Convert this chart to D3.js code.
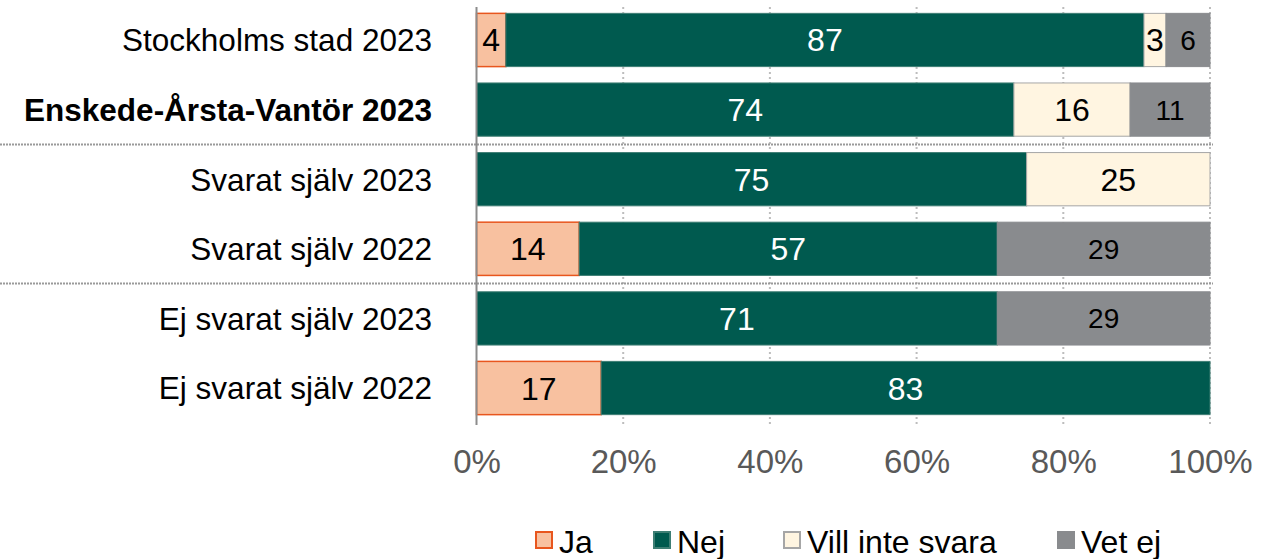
<!DOCTYPE html>
<html>
<head>
<meta charset="utf-8">
<script src="https://cdn.jsdelivr.net/npm/d3@7"></script>
<style>
  html, body { margin: 0; padding: 0; background: #fff; }
  svg { display: block; font-family: "Liberation Sans", Arial, sans-serif; }
</style>
</head>
<body>
<svg id="chart" width="1265" height="559"></svg>
<script>
// Row labels, top to bottom
const categories = [
  "Stockholms stad 2023",
  "Enskede-Årsta-Vantör 2023",
  "Svarat själv 2023",
  "Svarat själv 2022",
  "Ej svarat själv 2023",
  "Ej svarat själv 2022"
];
const boldCategory = "Enskede-Årsta-Vantör 2023";

// Answer shares (%) per row
const seriesNames = ["Ja", "Nej", "Vill inte svara", "Vet ej"];
const ja         = [4, 0, 0, 14, 0, 17];
const nej        = [87, 74, 75, 57, 71, 83];
const villInte   = [3, 16, 25, 0, 0, 0];
const vetEj      = [6, 11, 0, 29, 29, 0];

const tickValues = [0, 0.2, 0.4, 0.6, 0.8, 1.0];
// Group separators sit after these row indices
const separatorsAfter = [1, 3];

const colors = {
  "Ja": { fill: "#F8C1A0", stroke: "#E8561E", text: "#000" },
  "Nej": { fill: "#005A4F", stroke: "#3E7E74", text: "#fff" },
  "Vill inte svara": { fill: "#FFF5E1", stroke: "#A6A6A6", text: "#000" },
  "Vet ej": { fill: "#898B8E", stroke: "#898B8E", text: "#000" }
};

const svg = d3.select("#chart");
const margin = { left: 476.5, right: 55, top: 5, bottom: 136 };
const W = 1265, H = 559;

const x = d3.scaleLinear().domain([0, 1]).range([margin.left, W - margin.right]);
const y = d3.scaleBand().domain(categories).range([margin.top, H - margin.bottom]).paddingInner(0.235).paddingOuter(0.12);

// Build stacked shares, normalised to each row's total
const rows = categories.map((c, i) => {
  const vals = [ja[i], nej[i], villInte[i], vetEj[i]];
  const total = d3.sum(vals);
  const obj = { cat: c };
  seriesNames.forEach((s, k) => { obj[s] = vals[k] / total; obj[s + "_raw"] = vals[k]; });
  return obj;
});
const stacked = d3.stack().keys(seriesNames)(rows);

// Dotted vertical gridlines
const gridTop = margin.top + 2, gridBottom = H - margin.bottom + 2;
svg.append("g").selectAll("line").data(tickValues.slice(1)).join("line")
  .attr("x1", d => x(d)).attr("x2", d => x(d))
  .attr("y1", gridTop).attr("y2", gridBottom)
  .attr("stroke", "#BDBDBD").attr("stroke-width", 2)
  .attr("stroke-dasharray", "2,3");

// Horizontal group separators
const step = y.step();
svg.append("g").selectAll("line").data(separatorsAfter).join("line")
  .attr("x1", 0).attr("x2", x(1) + 3)
  .attr("y1", d => y(categories[d]) + y.bandwidth() + (step - y.bandwidth()) / 2)
  .attr("y2", d => y(categories[d]) + y.bandwidth() + (step - y.bandwidth()) / 2)
  .attr("stroke", "#9A9A9A").attr("stroke-width", 2)
  .attr("stroke-dasharray", "2,1");

// Bars
const barG = svg.append("g");
stacked.forEach(layer => {
  const s = layer.key;
  barG.append("g").selectAll("rect")
    .data(layer.filter(d => d.data[s] > 0))
    .join("rect")
    .attr("x", d => x(d[0]))
    .attr("y", d => y(d.data.cat))
    .attr("width", d => x(d[1]) - x(d[0]))
    .attr("height", y.bandwidth())
    .attr("fill", colors[s].fill)
    .attr("stroke", colors[s].stroke)
    .attr("stroke-width", s === "Ja" ? 1.5 : 1);
});

// Value labels
stacked.forEach(layer => {
  const s = layer.key;
  svg.append("g").selectAll("text")
    .data(layer.filter(d => d.data[s] > 0))
    .join("text")
    .attr("x", d => (x(d[0]) + x(d[1])) / 2)
    .attr("y", d => y(d.data.cat) + y.bandwidth() / 2)
    .attr("dy", "0.36em")
    .attr("text-anchor", "middle")
    .attr("fill", colors[s].text)
    .attr("font-size", s === "Vet ej" ? 28 : 32)
    .text(d => d.data[s + "_raw"]);
});

// Left axis line
svg.append("line")
  .attr("x1", x(0)).attr("x2", x(0))
  .attr("y1", gridTop).attr("y2", gridBottom)
  .attr("stroke", "#8C8C8C").attr("stroke-width", 2);

// Category labels
svg.append("g").selectAll("text").data(categories).join("text")
  .attr("x", 432)
  .attr("y", d => y(d) + y.bandwidth() / 2)
  .attr("dy", "0.36em")
  .attr("text-anchor", "end")
  .attr("font-size", 31.5)
  .attr("font-weight", d => d === boldCategory ? "bold" : "normal")
  .attr("fill", "#000")
  .text(d => d);

// X axis tick labels
const xAxis = d3.axisBottom(x).tickValues(tickValues).tickFormat(d3.format(".0%")).tickSize(0).tickPadding(0);
const axG = svg.append("g").attr("transform", `translate(0, 450)`).call(xAxis);
axG.select(".domain").remove();
axG.selectAll("text").attr("font-size", 33).attr("fill", "#595959")
  .attr("font-family", "'Liberation Sans', Arial, sans-serif");

// Legend
const legendItems = [
  { name: "Ja", x: 535 },
  { name: "Nej", x: 653 },
  { name: "Vill inte svara", x: 783 },
  { name: "Vet ej", x: 1057 }
];
const lg = svg.append("g").selectAll("g").data(legendItems).join("g")
  .attr("transform", d => `translate(${d.x}, 532)`);
lg.append("rect")
  .attr("x", 1).attr("y", 0).attr("width", 16).attr("height", 16)
  .attr("fill", d => colors[d.name].fill)
  .attr("stroke", d => colors[d.name].stroke)
  .attr("stroke-width", 2);
lg.append("text")
  .attr("x", 24).attr("y", 9).attr("dy", "0.36em")
  .attr("font-size", 32).attr("fill", "#000")
  .text(d => d.name);
</script>
</body>
</html>
